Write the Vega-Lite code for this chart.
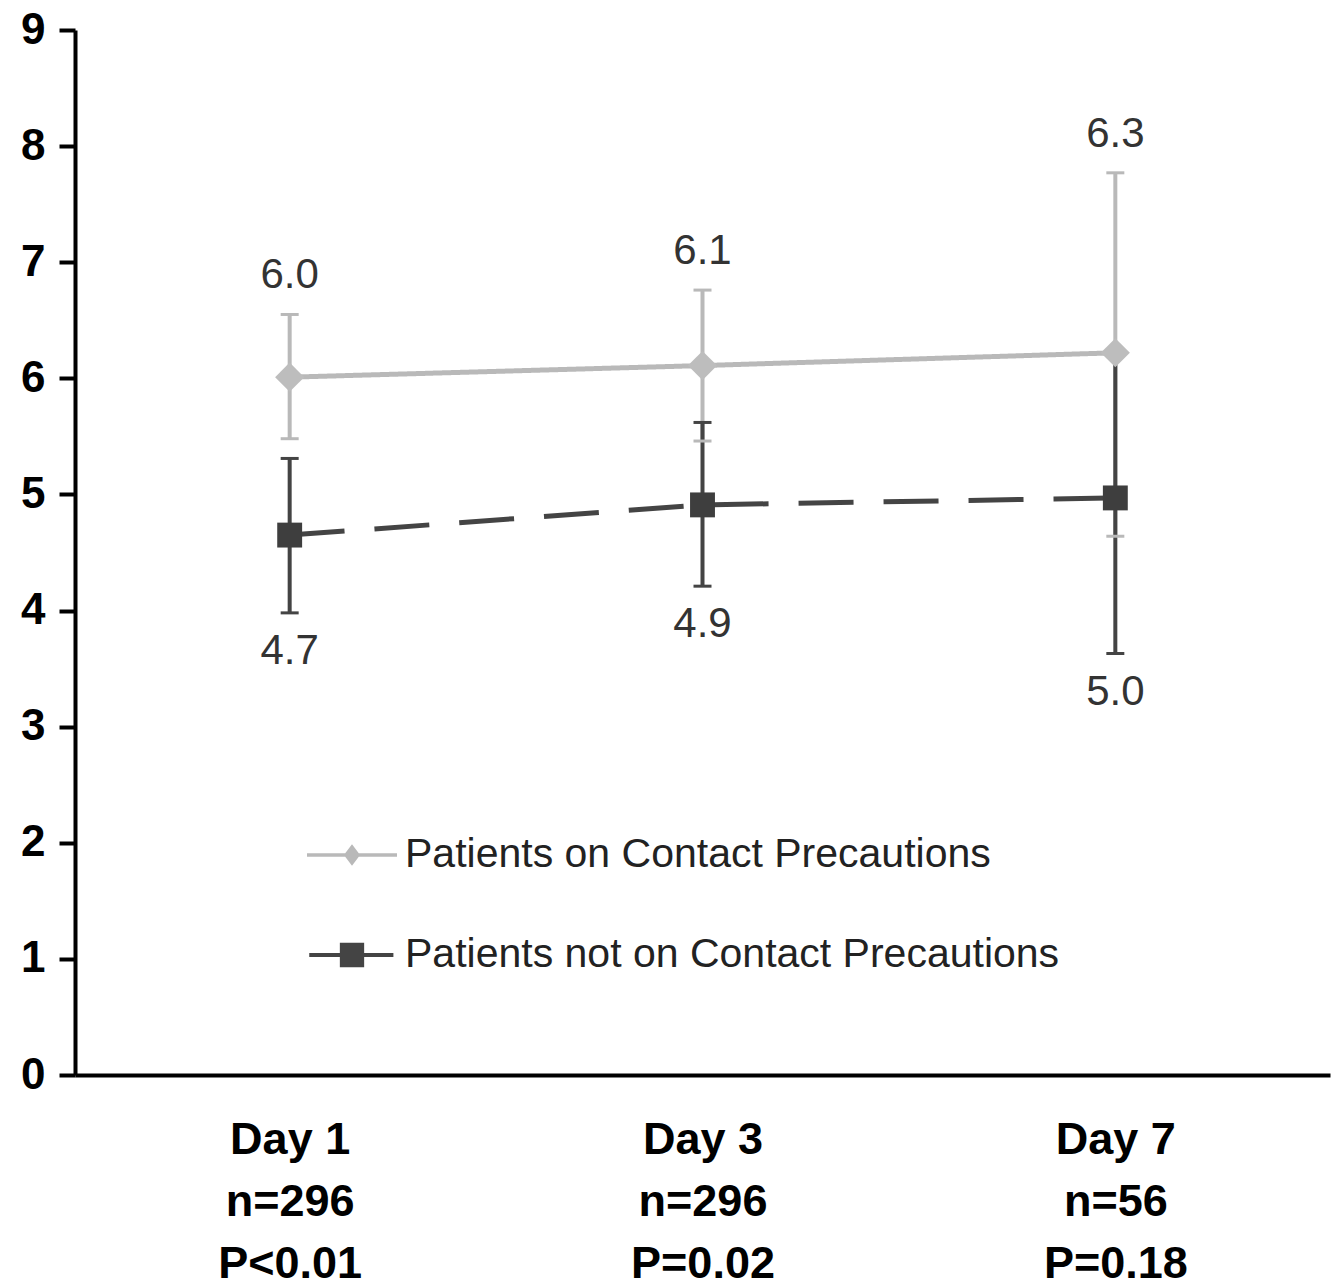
{
  "$schema": "https://vega.github.io/schema/vega-lite/v6.json",
  "width": 1255,
  "height": 1045,
  "autosize": "none",
  "padding": {"left": 75, "top": 30, "right": 6, "bottom": 213},
  "background": "white",
  "config": {"view": {"stroke": null}, "font": "Liberation Sans"},
  "data": {
    "values": [
      {"day": "Day 1|n=296|P<0.01", "group": "Patients on Contact Precautions", "mean": 6.01, "lo": 5.48, "hi": 6.55, "label": "6.0"},
      {"day": "Day 3|n=296|P=0.02", "group": "Patients on Contact Precautions", "mean": 6.11, "lo": 5.46, "hi": 6.76, "label": "6.1"},
      {"day": "Day 7|n=56|P=0.18", "group": "Patients on Contact Precautions", "mean": 6.22, "lo": 4.64, "hi": 7.77, "label": "6.3"},
      {"day": "Day 1|n=296|P<0.01", "group": "Patients not on Contact Precautions", "mean": 4.65, "lo": 3.98, "hi": 5.31, "label": "4.7"},
      {"day": "Day 3|n=296|P=0.02", "group": "Patients not on Contact Precautions", "mean": 4.91, "lo": 4.21, "hi": 5.62, "label": "4.9"},
      {"day": "Day 7|n=56|P=0.18", "group": "Patients not on Contact Precautions", "mean": 4.97, "lo": 3.63, "hi": 6.22, "label": "5.0"}
    ]
  },
  "encoding": {
    "x": {
      "field": "day",
      "type": "nominal",
      "sort": null,
      "scale": {"type": "point", "padding": 0.52},
      "axis": {
        "title": null,
        "labelAngle": 0,
        "ticks": false,
        "domainColor": "black",
        "domainWidth": 4,
        "labelFont": "Liberation Sans",
        "labelFontWeight": "bold",
        "labelFontSize": 45,
        "labelColor": "black",
        "labelLineHeight": 62,
        "labelPadding": 42,
        "labelBaseline": "top",
        "labelExpr": "split(datum.label, '|')"
      }
    },
    "color": {
      "field": "group",
      "type": "nominal",
      "scale": {
        "domain": ["Patients on Contact Precautions", "Patients not on Contact Precautions"],
        "range": ["#b9b9b9", "#444444"]
      },
      "legend": {
        "title": null,
        "orient": "none",
        "legendX": 232,
        "legendY": 780,
        "symbolSize": 8100,
        "labelFontSize": 41,
        "labelColor": "#222222",
        "labelFont": "Liberation Sans",
        "labelOffset": 8,
        "rowPadding": 35,
        "labelLimit": 1000,
        "symbolStrokeWidth": 0,
        "symbolOpacity": 1
      }
    }
  },
  "layer": [
    {
      "mark": {"type": "point", "filled": true, "opacity": 0},
      "encoding": {
        "y": {
          "field": "mean",
          "type": "quantitative",
          "scale": {"domain": [0, 9], "nice": false},
          "axis": {
            "title": null,
            "values": [0, 1, 2, 3, 4, 5, 6, 7, 8, 9],
            "format": "d",
            "grid": false,
            "domainColor": "black",
            "domainWidth": 4,
            "tickColor": "black",
            "tickWidth": 4,
            "tickSize": 16,
            "labelFont": "Liberation Sans",
            "labelFontSize": 44,
            "labelFontWeight": "bold",
            "labelColor": "black",
            "labelPadding": 14
          }
        },
        "shape": {
          "field": "group",
          "type": "nominal",
          "scale": {
            "domain": ["Patients on Contact Precautions", "Patients not on Contact Precautions"],
            "range": [
              "M-1,-0.04L1,-0.04L1,0.04L-1,0.04Z M0,-0.24L0.18,0L0,0.24L-0.18,0Z",
              "M-0.95,-0.045L0.92,-0.045L0.92,0.045L-0.95,0.045Z M-0.27,-0.27L0.27,-0.27L0.27,0.27L-0.27,0.27Z"
            ]
          },
          "legend": {
            "title": null,
            "orient": "none",
            "legendX": 232,
            "legendY": 780,
            "symbolSize": 8100,
            "labelFontSize": 41,
            "labelColor": "#222222",
            "labelFont": "Liberation Sans",
            "labelOffset": 8,
            "rowPadding": 35,
            "labelLimit": 1000,
            "symbolStrokeWidth": 0,
            "symbolOpacity": 1
          }
        }
      }
    },
    {
      "mark": {"type": "rule", "strokeWidth": 4},
      "encoding": {
        "y": {"field": "lo", "type": "quantitative"},
        "y2": {"field": "hi"}
      }
    },
    {
      "mark": {"type": "tick", "size": 18, "thickness": 3, "opacity": 1},
      "encoding": {"y": {"field": "hi", "type": "quantitative"}}
    },
    {
      "mark": {"type": "tick", "size": 18, "thickness": 3, "opacity": 1},
      "encoding": {"y": {"field": "lo", "type": "quantitative"}}
    },
    {
      "mark": {"type": "line", "strokeWidth": 5},
      "encoding": {
        "y": {"field": "mean", "type": "quantitative"},
        "strokeDash": {
          "field": "group",
          "type": "nominal",
          "scale": {
            "domain": ["Patients on Contact Precautions", "Patients not on Contact Precautions"],
            "range": [[1, 0], [55, 30]]
          },
          "legend": null
        }
      }
    },
    {
      "transform": [{"filter": "datum.group === 'Patients on Contact Precautions'"}],
      "mark": {"type": "point", "shape": "diamond", "filled": true, "opacity": 1, "size": 850},
      "encoding": {
        "y": {"field": "mean", "type": "quantitative"},
        "color": {"value": "#bdbdbd"}
      }
    },
    {
      "transform": [{"filter": "datum.group === 'Patients not on Contact Precautions'"}],
      "mark": {"type": "point", "shape": "square", "filled": true, "opacity": 1, "size": 620},
      "encoding": {
        "y": {"field": "mean", "type": "quantitative"},
        "color": {"value": "#3e3e3e"}
      }
    },
    {
      "transform": [{"filter": "datum.group === 'Patients on Contact Precautions'"}],
      "mark": {"type": "text", "baseline": "bottom", "dy": -17, "fontSize": 42, "font": "Liberation Sans"},
      "encoding": {
        "y": {"field": "hi", "type": "quantitative"},
        "text": {"field": "label"},
        "color": {"value": "#333333"}
      }
    },
    {
      "transform": [{"filter": "datum.group === 'Patients not on Contact Precautions'"}],
      "mark": {"type": "text", "baseline": "top", "dy": 18, "fontSize": 42, "font": "Liberation Sans"},
      "encoding": {
        "y": {"field": "lo", "type": "quantitative"},
        "text": {"field": "label"},
        "color": {"value": "#333333"}
      }
    }
  ]
}
